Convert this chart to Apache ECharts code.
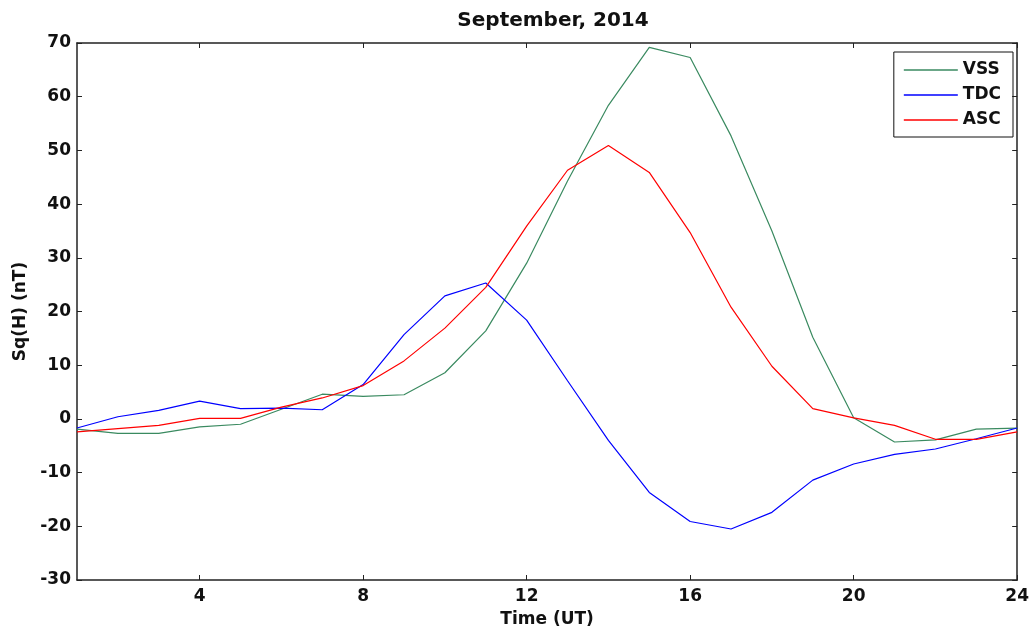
<!DOCTYPE html>
<html>
<head>
<meta charset="utf-8">
<script src="https://cdn.jsdelivr.net/npm/echarts@6/dist/echarts.min.js"></script>
<style>
html,body{margin:0;padding:0;background:#fff;}
#chart{width:1032px;height:633px;}
</style>
</head>
<body>
<div id="chart"></div>
<script>
var hours = [1,2,3,4,5,6,7,8,9,10,11,12,13,14,15,16,17,18,19,20,21,22,23,24];
var vss = [-1.9,-2.7,-2.7,-1.5,-1.0,1.8,4.6,4.2,4.5,8.6,16.4,29.0,44.3,58.4,69.2,67.3,52.7,35.0,15.2,0.2,-4.3,-3.9,-1.9,-1.7];
var tdc = [-1.7,0.4,1.6,3.3,1.9,2.0,1.7,6.4,15.7,22.9,25.3,18.4,7.1,-4.0,-13.7,-19.1,-20.5,-17.4,-11.4,-8.4,-6.6,-5.6,-3.7,-1.7];
var asc = [-2.4,-1.8,-1.2,0.1,0.1,2.2,3.9,6.2,10.8,16.9,24.5,35.9,46.3,50.9,45.9,34.7,20.8,9.8,1.9,0.2,-1.2,-3.8,-3.8,-2.4];
var xTicks = [4,8,12,16,20,24];
var seriesNames = ['VSS','TDC','ASC'];
var seriesColors = ['#3a8a60','#0000ff','#ff0000'];

function pairs(arr){ return hours.map(function(h,i){ return [h, arr[i]]; }); }

var font = 'DejaVu Sans, Liberation Sans, Arial, sans-serif';
var chart = echarts.init(document.getElementById('chart'), null, {renderer:'canvas'});
var axisLine = {show:true, onZero:false, lineStyle:{color:'#222', width:1.5}};
chart.setOption({
  animation:false,
  backgroundColor:'#fff',
  title:{text:'September, 2014', left:548, textAlign:'center', top:6,
    textStyle:{fontFamily:font, fontWeight:'bold', fontSize:20, color:'#111'}},
  legend:{
    data:seriesNames, orient:'vertical', right:19, top:52,
    icon:'rect', itemWidth:54, itemHeight:1.5, itemGap:7,
    borderColor:'#111', borderWidth:1, borderRadius:0,
    padding:[9,12,8,10],
    textStyle:{fontFamily:font, fontWeight:'bold', fontSize:17, lineHeight:18, color:'#111'}
  },
  grid:{left:77, right:14, top:43, bottom:51, containLabel:false},
  xAxis:[{
    type:'value', min:1, max:24, position:'bottom',
    name:'Time (UT)', nameLocation:'middle', nameGap:31,
    nameTextStyle:{fontFamily:font, fontWeight:'bold', fontSize:17, color:'#111'},
    axisLine:axisLine,
    axisTick:{show:true, inside:true, length:5, customValues:xTicks, lineStyle:{color:'#222'}},
    axisLabel:{show:true, customValues:xTicks, margin:8,
      fontFamily:font, fontWeight:'bold', fontSize:17, color:'#111'},
    splitLine:{show:false}
  },{
    type:'value', min:1, max:24, position:'top',
    axisLine:axisLine,
    axisTick:{show:true, inside:true, length:5, customValues:xTicks, lineStyle:{color:'#222'}},
    axisLabel:{show:false}, splitLine:{show:false}
  }],
  yAxis:[{
    type:'value', min:-30, max:70, interval:10, position:'left',
    name:'Sq(H) (nT)', nameLocation:'middle', nameGap:44, nameRotate:90,
    nameTextStyle:{fontFamily:font, fontWeight:'bold', fontSize:17, color:'#111'},
    axisLine:axisLine,
    axisTick:{show:true, inside:true, length:5, lineStyle:{color:'#222'}},
    axisLabel:{margin:6, fontFamily:font, fontWeight:'bold', fontSize:17, color:'#111'},
    splitLine:{show:false}
  },{
    type:'value', min:-30, max:70, interval:10, position:'right',
    axisLine:axisLine,
    axisTick:{show:true, inside:true, length:5, lineStyle:{color:'#222'}},
    axisLabel:{show:false}, splitLine:{show:false}
  }],
  series:[vss,tdc,asc].map(function(arr,i){
    return {name:seriesNames[i], type:'line', data:pairs(arr), symbol:'none',
      xAxisIndex:0, yAxisIndex:0,
      lineStyle:{color:seriesColors[i], width:1.2}, itemStyle:{color:seriesColors[i]}};
  })
});
</script>
</body>
</html>
